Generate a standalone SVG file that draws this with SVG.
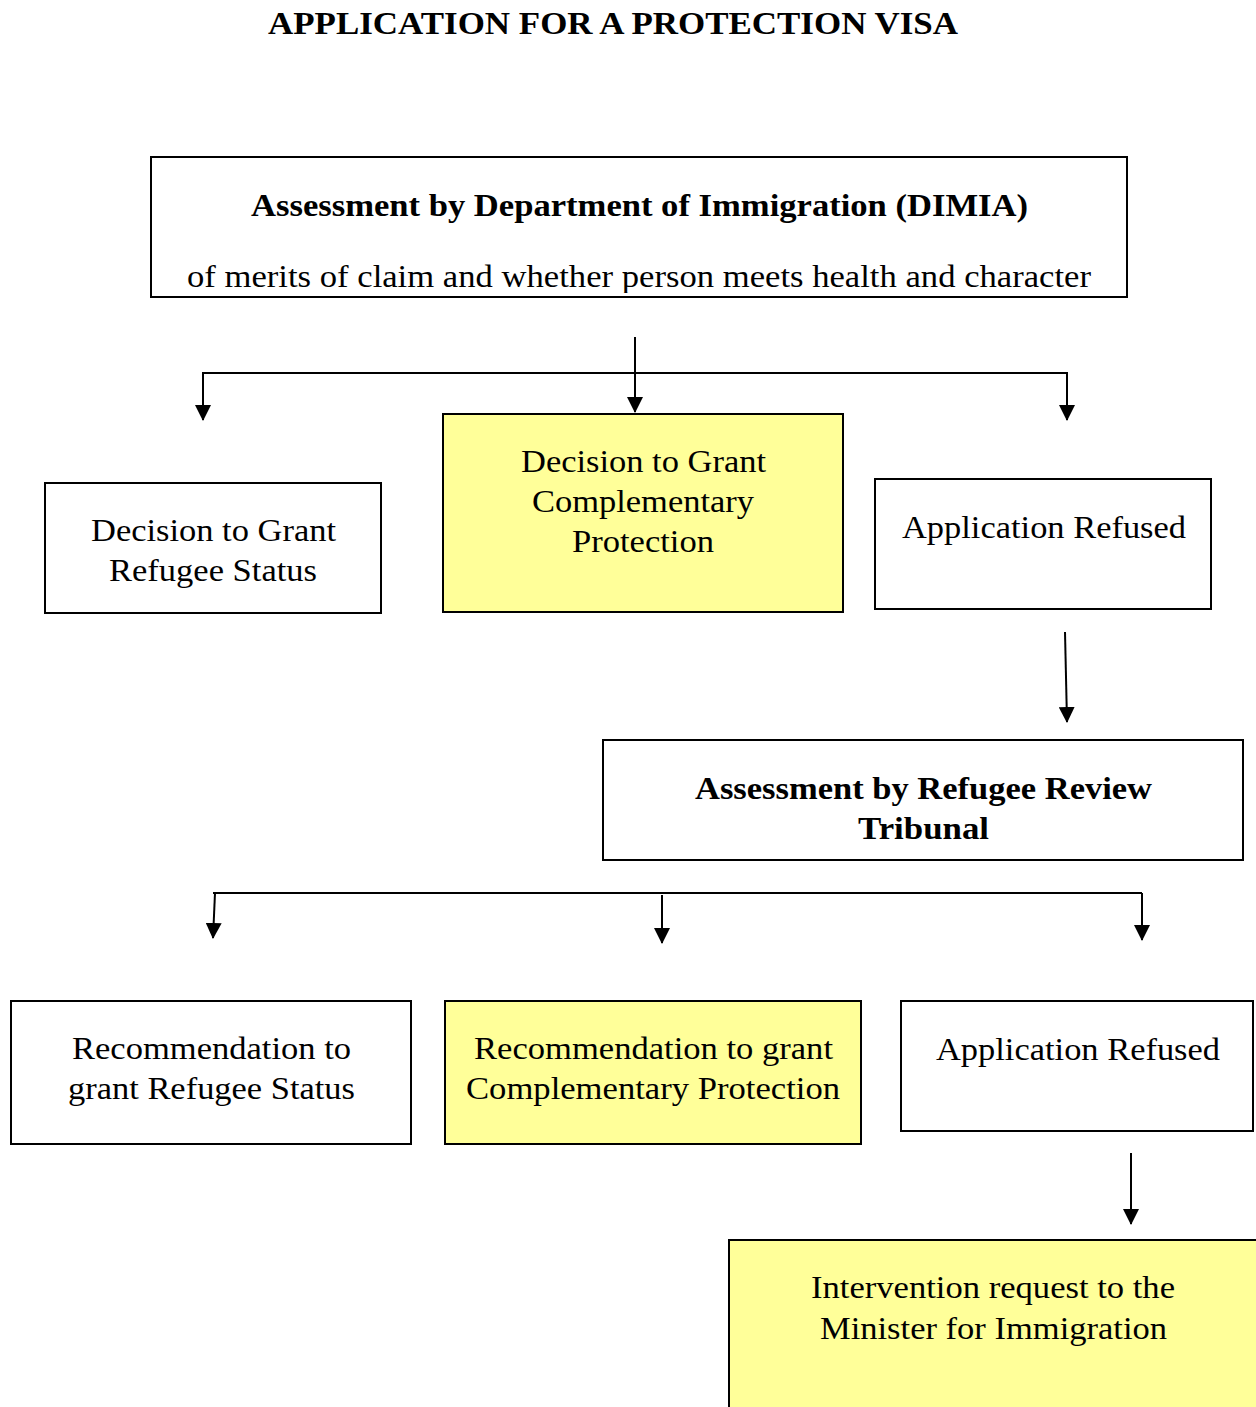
<svg xmlns="http://www.w3.org/2000/svg" width="1256" height="1407" viewBox="0 0 1256 1407">
<style>
.box{fill:#fff;stroke:#000;stroke-width:2}
.yel{fill:#FFFF99;stroke:#000;stroke-width:2}
.t{font-family:"Liberation Serif","Times New Roman",serif;font-size:32px;fill:#000;text-anchor:middle}
.b{font-weight:bold}
.c{fill:none;stroke:#000;stroke-width:2}
</style>
<defs>
<marker id="ad" markerUnits="userSpaceOnUse" markerWidth="16" markerHeight="16" refX="15" refY="8" orient="auto" viewBox="0 0 16 16">
<path d="M0,0 L16,8 L0,16 Z" fill="#000"/>
</marker>
<clipPath id="clip1"><rect x="152" y="158" width="974" height="135"/></clipPath>
</defs>
<rect width="1256" height="1407" fill="#fff"/>
<text class="t b" x="613" y="34" textLength="690" lengthAdjust="spacingAndGlyphs">APPLICATION FOR A PROTECTION VISA</text>

<g id="dimia">
<rect class="box" x="151" y="157" width="976" height="140"/>
<text class="t b" x="639.5" y="216" textLength="777" lengthAdjust="spacingAndGlyphs">Assessment by Department of Immigration (DIMIA)</text>
<g clip-path="url(#clip1)"><text class="t" x="639" y="287" textLength="904" lengthAdjust="spacingAndGlyphs">of merits of claim and whether person meets health and character</text></g>
</g>

<g id="grant-refugee">
<rect class="box" x="45" y="483" width="336" height="130"/>
<text class="t" x="213.5" y="541" textLength="245" lengthAdjust="spacingAndGlyphs">Decision to Grant</text>
<text class="t" x="213" y="581" textLength="208" lengthAdjust="spacingAndGlyphs">Refugee Status</text>
</g>

<g id="grant-comp">
<rect class="yel" x="443" y="414" width="400" height="198"/>
<text class="t" x="643.5" y="472" textLength="245" lengthAdjust="spacingAndGlyphs">Decision to Grant</text>
<text class="t" x="643" y="512" textLength="222" lengthAdjust="spacingAndGlyphs">Complementary</text>
<text class="t" x="643" y="552" textLength="142" lengthAdjust="spacingAndGlyphs">Protection</text>
</g>

<g id="refused1">
<rect class="box" x="875" y="479" width="336" height="130"/>
<text class="t" x="1044" y="538" textLength="284" lengthAdjust="spacingAndGlyphs">Application Refused</text>
</g>

<g id="rrt">
<rect class="box" x="603" y="740" width="640" height="120"/>
<text class="t b" x="923.5" y="799" textLength="457" lengthAdjust="spacingAndGlyphs">Assessment by Refugee Review</text>
<text class="t b" x="923.5" y="839" textLength="131" lengthAdjust="spacingAndGlyphs">Tribunal</text>
</g>

<g id="rec-refugee">
<rect class="box" x="11" y="1001" width="400" height="143"/>
<text class="t" x="211.5" y="1059" textLength="279" lengthAdjust="spacingAndGlyphs">Recommendation to</text>
<text class="t" x="211.5" y="1099" textLength="287" lengthAdjust="spacingAndGlyphs">grant Refugee Status</text>
</g>

<g id="rec-comp">
<rect class="yel" x="445" y="1001" width="416" height="143"/>
<text class="t" x="653.5" y="1059" textLength="359" lengthAdjust="spacingAndGlyphs">Recommendation to grant</text>
<text class="t" x="653" y="1099" textLength="374" lengthAdjust="spacingAndGlyphs">Complementary Protection</text>
</g>

<g id="refused2">
<rect class="box" x="901" y="1001" width="352" height="130"/>
<text class="t" x="1078" y="1060" textLength="284" lengthAdjust="spacingAndGlyphs">Application Refused</text>
</g>

<g id="minister">
<rect class="yel" x="729" y="1240" width="530" height="172"/>
<text class="t" x="993" y="1298" textLength="364" lengthAdjust="spacingAndGlyphs">Intervention request to the</text>
<text class="t" x="993.5" y="1339" textLength="347" lengthAdjust="spacingAndGlyphs">Minister for Immigration</text>
</g>

<g id="connectors">
<line class="c" x1="635" y1="337" x2="635" y2="412" marker-end="url(#ad)"/>
<line class="c" x1="202" y1="373" x2="1068" y2="373"/>
<line class="c" x1="203" y1="372" x2="203" y2="420" marker-end="url(#ad)"/>
<line class="c" x1="1067" y1="372" x2="1067" y2="420" marker-end="url(#ad)"/>
<line class="c" x1="1065" y1="632" x2="1067" y2="722" marker-end="url(#ad)"/>
<line class="c" x1="213" y1="893" x2="1142" y2="893"/>
<line class="c" x1="215" y1="893" x2="213" y2="938" marker-end="url(#ad)"/>
<line class="c" x1="662" y1="895" x2="662" y2="943" marker-end="url(#ad)"/>
<line class="c" x1="1142" y1="893" x2="1142" y2="940" marker-end="url(#ad)"/>
<line class="c" x1="1131" y1="1153" x2="1131" y2="1224" marker-end="url(#ad)"/>
</g>
</svg>
